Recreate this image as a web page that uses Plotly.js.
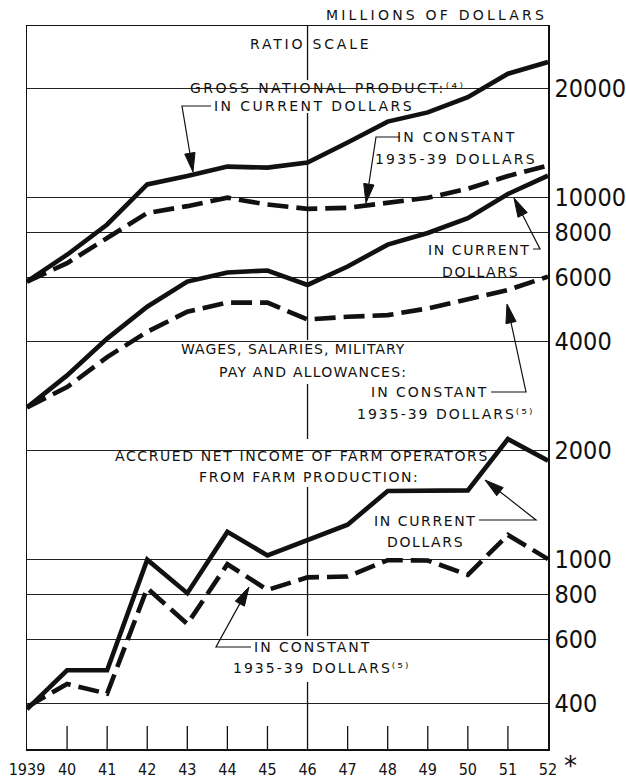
<!DOCTYPE html>
<html><head><meta charset="utf-8">
<script src="https://cdn.plot.ly/plotly-3.0.1.min.js"></script>
<style>html,body{margin:0;padding:0;background:#fff}</style>
</head><body>
<div id="chart" style="width:626px;height:781px"></div>
<script>
// ---- data (millions of dollars, ratio scale) ----
const years = [1939,1940,1941,1942,1943,1944,1945,1946,1947,1948,1949,1950,1951,1952];
const yearLabels = ['1939','40','41','42','43','44','45','46','47','48','49','50','51','52'];
const gnpCurrent = [5840,6930,8400,10840,11430,12140,12060,12450,14150,16160,17140,18870,21920,23610];
const gnpConstant = [5840,6570,7710,9040,9440,9960,9540,9280,9340,9640,9960,10550,11430,12220];
const wagesCurrent = [2625,3217,4065,4980,5843,6190,6270,5720,6430,7390,7960,8740,10200,11460];
const wagesConstant = [2625,2985,3615,4245,4825,5110,5110,4590,4670,4720,4925,5220,5540,6030];
const farmCurrent = [385,493,493,996,805,1189,1024,1132,1245,1542,1542,1548,2146,1870];
const farmConstant = [390,452,425,831,662,968,822,890,895,993,991,905,1166,1000];
const yTickValues = [400,600,800,1000,2000,4000,6000,8000,10000,20000];
const yTickLabels = ['400','600','800','1000','2000','4000','6000','8000','10000','20000'];

// ---- geometry helpers ----
const W = 626, H = 781, M = {l:27, r:78, t:26, b:32};
const PW = W - M.l - M.r, PH = H - M.t - M.b;
const px = x => (x - M.l) / PW;
const py = y => 1 - (y - M.t) / PH;
const INK = '#111';
const LABEL_FONT = 'DejaVu Sans, Verdana, sans-serif';
const NARROW = "'Liberation Sans Narrow', 'DejaVu Sans Condensed', 'Arial Narrow', sans-serif";

function solid(y){ return {x:years, y:y, type:'scatter', mode:'lines', line:{color:INK, width:4.6}, hoverinfo:'skip'}; }
function dashed(y){ return {x:years, y:y, type:'scatter', mode:'lines', line:{color:INK, width:4.6, dash:'21px,8px'}, hoverinfo:'skip'}; }

const traces = [solid(gnpCurrent), dashed(gnpConstant), solid(wagesCurrent), dashed(wagesConstant), solid(farmCurrent), dashed(farmConstant)];

function lab(text, x, y, anchor, ls, size){
  return {xref:'paper', yref:'paper', x:px(x), y:py(y), xanchor:anchor||'center', yanchor:'middle',
    showarrow:false, text:'<span style="letter-spacing:'+(ls==null?2.3:ls)+'px">'+text+'</span>',
    font:{family:LABEL_FONT, size:size||14, color:INK}};
}
const annotations = [
  lab('MILLIONS OF DOLLARS', 549, 15, 'right', 3.2),
  lab('RATIO SCALE', 311, 44, 'center', 2.8),
  lab('GROSS NATIONAL PRODUCT:\u207D\u2074\u207E', 188, 88, 'left', 2.4),
  lab('IN CURRENT DOLLARS', 212, 106, 'left', 2.4),
  lab('IN CONSTANT', 456, 137, 'center', 2.2),
  lab('1935-39 DOLLARS', 456, 159, 'center', 2.2),
  lab('IN CURRENT', 532, 250, 'right', 1.6),
  lab('DOLLARS', 480, 272, 'center', 1.6),
  lab('WAGES, SALARIES, MILITARY', 293, 349, 'center', 1.0),
  lab('PAY AND ALLOWANCES:', 313, 372, 'center', 1.2),
  lab('IN CONSTANT', 490, 392, 'right', 2.0),
  lab('1935-39 DOLLARS\u207D\u2075\u207E', 445, 414, 'center', 2.0),
  lab('ACCRUED NET INCOME OF FARM OPERATORS', 302, 456, 'center', 1.6),
  lab('FROM FARM PRODUCTION:', 309, 477, 'center', 1.6),
  lab('IN CURRENT', 478, 521, 'right', 1.6),
  lab('DOLLARS', 425, 542, 'center', 1.6),
  lab('IN CONSTANT', 252, 647, 'left', 2.0),
  lab('1935-39 DOLLARS\u207D\u2075\u207E', 321, 668, 'center', 2.0),
  {xref:'paper', yref:'paper', x:px(562), y:py(766), xanchor:'left', yanchor:'middle', showarrow:false,
   text:'*', font:{family:LABEL_FONT, size:26, color:INK}}
];

// ---- decorations: gridline gaps, 1946 rule, floating ticks, leaders, arrowheads ----
const shapes = [];
function gap(x0, x1, y){ shapes.push({type:'rect', xref:'paper', yref:'paper', x0:px(x0), x1:px(x1), y0:py(y-2.5), y1:py(y+2.5), fillcolor:'#fff', line:{width:0}, layer:'between'}); }
gap(182, 452, 88); gap(110, 497, 451); gap(520, 540, 231); gap(209, 230, 639); gap(509, 521, 340);

const ruleSegments = [[26,80],[113,340],[384,439],[487,636],[682,749]];
ruleSegments.forEach(s => shapes.push({type:'line', xref:'x', yref:'paper', x0:1946, x1:1946, y0:py(s[0]), y1:py(s[1]), line:{color:INK, width:1.3}, layer:'between'}));

years.forEach(yr => { if (yr > 1939 && yr < 1952 && yr !== 1946)
  shapes.push({type:'line', xref:'x', yref:'paper', x0:yr, x1:yr, y0:py(726), y1:py(749), line:{color:INK, width:1.3}, layer:'above'}); });

function P(x, y){ return px(x).toFixed(5) + ',' + py(y).toFixed(5); }
function leader(pts, tip){
  const f = pts[pts.length-1];
  const dx = tip[0]-f[0], dy = tip[1]-f[1], d = Math.hypot(dx, dy);
  const ux = dx/d, uy = dy/d, L = 19, hw = 5.2;
  const bx = tip[0]-ux*L, by = tip[1]-uy*L;
  let path = 'M' + P(pts[0][0], pts[0][1]);
  for (let i = 1; i < pts.length; i++) path += ' L' + P(pts[i][0], pts[i][1]);
  path += ' L' + P(bx, by);
  shapes.push({type:'path', xref:'paper', yref:'paper', path:path, line:{color:INK, width:1.2}, layer:'above'});
  const head = 'M' + P(tip[0], tip[1]) + ' L' + P(bx - uy*hw, by + ux*hw) + ' L' + P(bx + uy*hw, by - ux*hw) + ' Z';
  shapes.push({type:'path', xref:'paper', yref:'paper', path:head, fillcolor:INK, line:{color:INK, width:1}, layer:'above'});
}
leader([[211,106],[182,106]], [193,172]);
leader([[400,137],[376,137]], [366,203]);
leader([[533,249],[540,249]], [514,198]);
leader([[491,392],[526,392]], [507,304]);
leader([[479,520],[536,520]], [485,480]);
leader([[251,647],[216,647]], [249,587]);

const layout = {
  width:W, height:H, margin:M, showlegend:false,
  paper_bgcolor:'#fff', plot_bgcolor:'#fff',
  xaxis:{range:[1939,1952], tickvals:years, ticktext:yearLabels, showgrid:false, zeroline:false,
    showline:true, mirror:true, linecolor:INK, linewidth:1.5, ticks:'', ticklabelstandoff:5,
    tickfont:{family:NARROW, size:16, color:INK}, fixedrange:true},
  yaxis:{type:'log', side:'right', range:[2.4754,4.4726], tickvals:yTickValues, ticktext:yTickLabels,
    showgrid:true, gridcolor:'#222', gridwidth:1, zeroline:false,
    showline:true, mirror:true, linecolor:INK, linewidth:1.5, ticks:'',
    tickfont:{family:NARROW, size:25, color:INK}, fixedrange:true},
  annotations:annotations, shapes:shapes
};
Plotly.newPlot('chart', traces, layout, {displayModeBar:false, staticPlot:true});
</script>
</body></html>
